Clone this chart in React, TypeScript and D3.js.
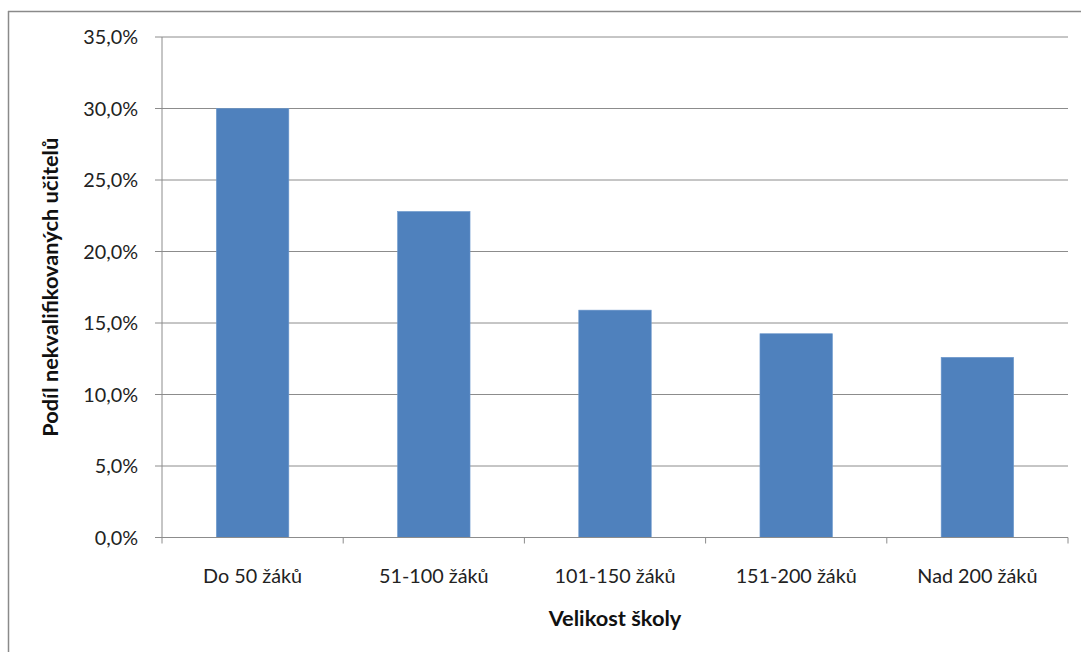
import React from "react";
import * as d3 from "d3";

const categories = ["Do 50 žáků", "51-100 žáků", "101-150 žáků", "151-200 žáků", "Nad 200 žáků"];
const values = [30.0, 22.8, 15.9, 14.25, 12.6];
const yTicks = [0, 5, 10, 15, 20, 25, 30, 35];
const yTitle = "Podíl nekvalifikovaných učitelů";
const xTitle = "Velikost školy";

const W = 1081;
const H = 652;
const left = 162;
const right = 1068;
const top = 37;
const bottom = 537.5;
const font = "Lato, 'Open Sans', sans-serif";

export default function App() {
  const x = d3.scaleBand<string>().domain(categories).range([left, right]).paddingInner(0.6).paddingOuter(0.3);
  const xb = d3.scaleBand<string>().domain(categories).range([left, right]);
  const y = d3.scaleLinear().domain([0, 35]).range([bottom, top]);
  const fmt = (v: number) => v.toFixed(1).replace(".", ",") + "%";
  const boundaries = [...categories.map((c) => xb(c) as number), right];
  return (
    <svg width={W} height={H} style={{ position: "absolute", left: 0, top: 0, background: "#fff" }}>
      <rect x={0} y={0} width={W} height={H} fill="#fff" />
      <line x1={8.5} y1={11} x2={8.5} y2={H} stroke="#8a8a8a" strokeWidth={1.5} />
      <line x1={8} y1={11.5} x2={W} y2={11.5} stroke="#8a8a8a" strokeWidth={1.5} />
      {yTicks.map((t) => (
        <g key={t}>
          {t > 0 && <line x1={left} x2={right} y1={y(t)} y2={y(t)} stroke="#8c8c8c" strokeWidth={1} />}
          <line x1={left - 7} x2={left} y1={y(t)} y2={y(t)} stroke="#8c8c8c" strokeWidth={1} />
          <text x={138} y={y(t)} dy="0.36em" textAnchor="end" fontFamily={font} fontSize={19.8} fill="#222">
            {fmt(t)}
          </text>
        </g>
      ))}
      {categories.map((c, i) => (
        <rect key={c} x={x(c)} y={y(values[i])} width={x.bandwidth()} height={bottom - y(values[i])} fill="#4f81bd" stroke="#6d98cc" strokeWidth={0.6} />
      ))}
      <line x1={left} x2={left} y1={top} y2={bottom} stroke="#8c8c8c" strokeWidth={1} />
      <line x1={left} x2={right} y1={bottom} y2={bottom} stroke="#8c8c8c" strokeWidth={1} />
      {boundaries.map((b, i) => (
        <line key={i} x1={b} x2={b} y1={bottom} y2={bottom + 6} stroke="#8c8c8c" strokeWidth={1} />
      ))}
      {categories.map((c) => (
        <text key={c} x={(xb(c) as number) + xb.bandwidth() / 2} y={576} dy="0.36em" textAnchor="middle" fontFamily={font} fontSize={19.8} fill="#222">
          {c}
        </text>
      ))}
      <text x={615} y={618} dy="0.36em" textAnchor="middle" fontFamily={font} fontSize={21.8} fontWeight="bold" fill="#111">
        {xTitle}
      </text>
      <text transform={`translate(50,${(top + bottom) / 2}) rotate(-90)`} dy="0.36em" textAnchor="middle" fontFamily={font} fontSize={21.8} fontWeight="bold" fill="#111">
        {yTitle}
      </text>
    </svg>
  );
}
